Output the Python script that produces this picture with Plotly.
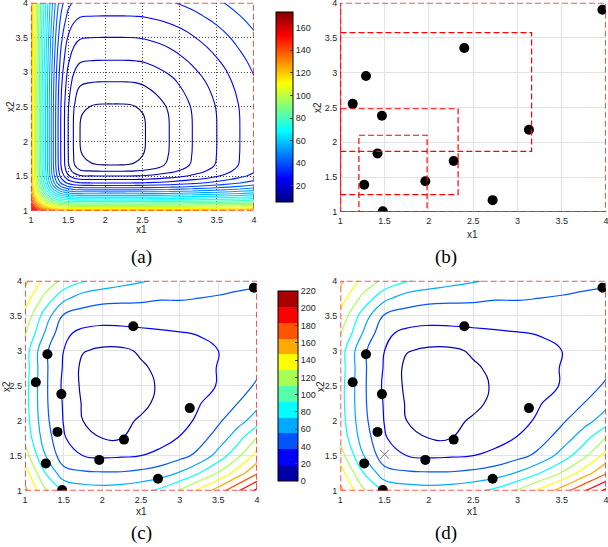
import math
import plotly.graph_objects as go

# ---------------- data ----------------
# (a) true function: profile along the line through the minimum (x, height above minimum)
A_X = [1.0, 1.03, 1.06, 1.1, 1.15, 1.2, 1.25, 1.3, 1.35, 1.4, 1.45, 1.5, 1.57, 1.66,
       1.8, 1.9, 2.0, 2.1, 2.2, 2.3, 2.4, 2.54, 2.86, 3.17, 3.5, 3.81, 4.0]
A_H = [115, 104, 94, 82, 69, 58, 48, 39, 31, 24, 19, 14, 9, 4,
       1.9, 0.8, 0.2, 0, 0.2, 0.8, 1.9, 4, 9, 14, 19, 24, 27]
A_FMIN = 6

# sample points
PTS_X1 = [1.48, 1.27, 1.96, 2.28, 1.42, 1.47, 1.14, 1.29, 2.40, 3.13, 2.72, 3.96]
PTS_X2 = [1.01, 1.39, 1.44, 1.73, 1.84, 2.38, 2.55, 2.95, 3.35, 2.18, 1.17, 3.90]

# trust regions in (b)
RECT_X0 = [1.0, 1.0, 1.0, 1.21]
RECT_X1 = [4.0, 3.16, 2.33, 1.98]
RECT_Y0 = [1.0, 1.87, 1.25, 1.0]
RECT_Y1 = [4.0, 3.57, 2.48, 2.10]

# (c)/(d) surrogate values on a grid (rows: x2 = 1 .. 4, cols: x1 = 1 .. 4)
C_GRID = [1.0, 1.25, 1.5, 1.75, 2.0, 2.25, 2.5, 2.75, 3.0, 3.25, 3.5, 3.75, 4.0]
C_Z = [
    [155, 115, 88, 80, 78, 80, 85, 95, 112, 135, 160, 188, 215],
    [140, 92, 58, 53, 52, 52, 55, 60, 72, 90, 112, 140, 168],
    [120, 72, 38, 30, 27, 28, 30, 36, 44, 55, 78, 105, 138],
    [105, 62, 32, 16, 10, 10, 14, 22, 31, 43, 58, 82, 112],
    [100, 57, 29, 10, 7, 6, 12, 18, 24, 33, 47, 62, 80],
    [98, 55, 28, 8, 4, 3, 6, 14, 22, 29, 38, 50, 64],
    [98, 55, 26, 6, 3, 3, 5, 12, 19, 24, 31, 40, 53],
    [100, 55, 28, 5, 4, 4, 8, 13, 17, 22, 31, 36, 45],
    [100, 55, 30, 11, 7, 7, 12, 17, 21, 25, 30, 35, 40],
    [112, 70, 34, 25, 22, 23, 25, 27, 29, 31, 34, 38, 42],
    [125, 82, 48, 42, 40, 40, 41, 42, 43, 44, 45, 45, 44],
    [140, 105, 75, 60, 55, 54, 53, 51, 51, 50, 49, 48, 47],
    [155, 125, 105, 92, 84, 77, 72, 67, 62, 58, 55, 53, 52],
]
CAND_X1 = [1.5]
CAND_X2 = [1.52]

TICKS = [1, 1.5, 2, 2.5, 3, 3.5, 4]
TICKTEXT = ["1", "1.5", "2", "2.5", "3", "3.5", "4"]
CB_A_TICKS = [20, 40, 60, 80, 100, 120, 140, 160]
CB_C_TICKS = [0, 20, 40, 60, 80, 100, 120, 140, 160, 180, 200, 220]

# ---------------- styles ----------------
W, H = 608, 547
def px(x):
    return x / W
def py(y):
    return 1 - y / H

JET = [[0.0, "rgb(0,0,128)"], [0.125, "rgb(0,0,255)"], [0.375, "rgb(0,255,255)"],
       [0.625, "rgb(255,255,0)"], [0.875, "rgb(255,0,0)"], [1.0, "rgb(128,0,0)"]]
J12 = ["rgb(0,0,170)", "rgb(0,0,255)", "rgb(0,85,255)", "rgb(0,170,255)",
       "rgb(0,255,255)", "rgb(85,255,170)", "rgb(170,255,85)", "rgb(255,255,0)",
       "rgb(255,170,0)", "rgb(255,85,0)", "rgb(255,0,0)", "rgb(170,0,0)"]
JET12 = []
for k, c in enumerate(J12):
    JET12.append([k / 12, c])
    JET12.append([(k + 1) / 12, c])

za = [[A_FMIN + math.sqrt(hx * hx + hy * hy) for hx in A_H] for hy in A_H]

TICKFONT = dict(size=9, color="#262626", family="Liberation Sans")
DOT = dict(color="black", size=10)

fig = go.Figure()

# (a)
fig.add_trace(go.Contour(
    x=A_X, y=A_X, z=za, xaxis="x", yaxis="y",
    contours=dict(coloring="lines", start=10, end=170, size=5),
    colorscale=JET, zmin=6, zmax=174, zauto=False,
    line=dict(width=1.1, smoothing=1.3), showscale=False, hoverinfo="skip"))
fig.add_trace(go.Scatter(
    x=[None], y=[None], mode="markers", xaxis="x", yaxis="y", showlegend=False,
    marker=dict(color=[6], colorscale=JET, cmin=6, cmax=174, showscale=True,
                colorbar=dict(x=px(266), xanchor="left", y=py(106.7), yanchor="middle",
                              len=210 / H, lenmode="fraction", thickness=17,
                              thicknessmode="pixels", outlinecolor="black", outlinewidth=1,
                              tickvals=CB_A_TICKS, ticks="inside", ticklen=3,
                              tickfont=TICKFONT))))

# (b)
fig.add_trace(go.Scatter(x=PTS_X1, y=PTS_X2, mode="markers", xaxis="x2", yaxis="y2",
                         marker=DOT, showlegend=False, hoverinfo="skip"))

# (c) and (d)
for xa, ya in (("x3", "y3"), ("x4", "y4")):
    fig.add_trace(go.Contour(
        x=C_GRID, y=C_GRID, z=C_Z, xaxis=xa, yaxis=ya,
        contours=dict(coloring="lines", start=10, end=210, size=20),
        colorscale=JET12, zmin=0, zmax=220, zauto=False,
        line=dict(width=1.2, smoothing=1.3), showscale=False, hoverinfo="skip"))
    fig.add_trace(go.Scatter(x=PTS_X1, y=PTS_X2, mode="markers", xaxis=xa, yaxis=ya,
                             marker=DOT, showlegend=False, hoverinfo="skip"))
fig.add_trace(go.Scatter(
    x=[None], y=[None], mode="markers", xaxis="x3", yaxis="y3", showlegend=False,
    marker=dict(color=[0], colorscale=JET12, cmin=0, cmax=220, showscale=True,
                colorbar=dict(x=px(268), xanchor="left", y=py(386), yanchor="middle",
                              len=210 / H, lenmode="fraction", thickness=20,
                              thicknessmode="pixels", outlinecolor="black", outlinewidth=1,
                              tickvals=CB_C_TICKS, ticks="inside", ticklen=3,
                              tickfont=TICKFONT))))
fig.add_trace(go.Scatter(x=CAND_X1, y=CAND_X2, mode="markers", xaxis="x4", yaxis="y4",
                         marker=dict(symbol="x-thin", size=9,
                                     line=dict(color="#777777", width=1)),
                         showlegend=False, hoverinfo="skip"))

# axes
doms = {
    "": ([31, 254], [2.7, 210.7]),
    "2": ([340.3, 606], [2.7, 212]),
    "3": ([25, 257], [280.7, 490.7]),
    "4": ([340.3, 606], [280.7, 490.7]),
}
layout = {}
for k, (dx, dy) in doms.items():
    grid_dot = (k == "")
    common = dict(range=[1, 4], tickvals=TICKS, ticktext=TICKTEXT, showgrid=True,
                  gridcolor="#444444" if grid_dot else "#e3e3e3",
                  griddash="1px,2px" if grid_dot else "solid", gridwidth=1,
                  zeroline=False, showline=False, ticks="", automargin=False,
                  ticklabeloverflow="allow", tickfont=TICKFONT)
    layout["xaxis" + k] = dict(domain=[px(dx[0]), px(dx[1])], anchor="y" + k,
                               ticklabelstandoff=2, **common)
    layout["yaxis" + k] = dict(domain=[py(dy[1]), py(dy[0])], anchor="x" + k,
                               ticklabelstandoff=2, **common)
fig.update_layout(**layout)

FRAME = dict(color="rgba(255,40,40,0.8)", width=2, dash="6px,3px")
shapes = []
for k in ("", "2", "3", "4"):
    shapes.append(dict(type="rect", xref="x" + k, yref="y" + k, x0=1, x1=4, y0=1, y1=4,
                       line=FRAME))
for i in range(1, len(RECT_X0)):
    shapes.append(dict(type="rect", xref="x2", yref="y2", x0=RECT_X0[i], x1=RECT_X1[i],
                       y0=RECT_Y0[i], y1=RECT_Y1[i],
                       line=dict(color="red", width=1.2, dash="6px,3px")))
shapes.append(dict(type="line", xref="x2", yref="y2", x0=1, x1=1, y0=1, y1=4,
                   line=dict(color="red", width=1.5)))
shapes.append(dict(type="line", xref="x2", yref="y2", x0=1, x1=4, y0=1, y1=1,
                   line=dict(color="red", width=1.5)))

ann = []
def text(s, x, y, size=10, fam="Liberation Sans", angle=0):
    ann.append(dict(text=s, x=px(x), y=py(y), xref="paper", yref="paper",
                    showarrow=False, xanchor="center", yanchor="middle", textangle=angle,
                    font=dict(size=size, family=fam, color="#262626")))
text("x1", 141, 229)
text("x1", 472, 234)
text("x1", 141, 511)
text("x1", 472, 511)
text("x2", 10, 107, angle=-90)
text("x2", 318, 108, angle=-90)
text("x2", 6, 387, angle=-90)
text("x2", 320, 387, angle=-90)
for s, x, y in (("(a)", 141, 257), ("(b)", 446, 257), ("(c)", 141, 533), ("(d)", 446, 533)):
    ann.append(dict(text=s, x=px(x), y=py(y), xref="paper", yref="paper",
                    showarrow=False, xanchor="center", yanchor="middle",
                    font=dict(size=19, family="Liberation Serif", color="black")))

fig.update_layout(width=W, height=H, margin=dict(l=0, r=0, t=0, b=0),
                  paper_bgcolor="white", plot_bgcolor="white", showlegend=False,
                  shapes=shapes, annotations=ann)
fig.write_html("out.html", config={"displayModeBar": False},
               post_script="document.body.style.margin='0';"
                           "document.body.style.overflow='hidden';")
